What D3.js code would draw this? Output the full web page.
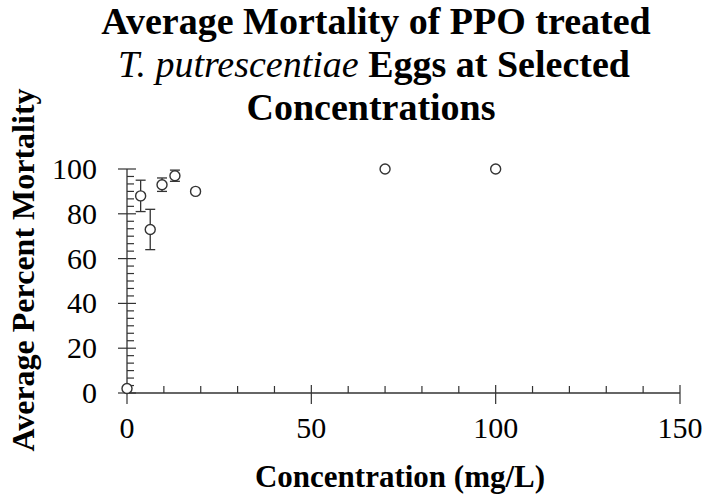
<!DOCTYPE html>
<html>
<head>
<meta charset="utf-8">
<script src="https://cdn.jsdelivr.net/npm/d3@7"></script>
<style>
  body { margin: 0; background: #fff; }
  svg text { font-family: "Liberation Serif", "Times New Roman", serif; fill: #000; }
</style>
</head>
<body>
<div id="chart"></div>
<script>
// data
const concentration = [0, 3.7, 6.3, 9.5, 13, 18.6, 70, 100];
const mortality = [2, 88, 73, 93, 97, 90, 100, 100];
const errorBars = [0, 7, 9, 3, 2.5, 0, 0, 0];
const xTicks = [0, 50, 100, 150];
const yTicks = [0, 20, 40, 60, 80, 100];

let width = 706;
let height = 496;

let svg = d3.select('#chart')
  .append('svg')
  .attr('width', width)
  .attr('height', height)

let x = d3.scaleLinear().domain([0, 150]).range([127, 680]);
let y = d3.scaleLinear().domain([0, 100]).range([393, 169]);

/** title */
let title = svg.append('text')
  .attr('text-anchor', 'middle')
  .style('font-weight', 'bold')
  .style('font-size', '38px')
title.append('tspan').attr('x', 376).attr('y', 34).text('Average Mortality of PPO treated')
let t2 = title.append('tspan').attr('x', 374).attr('y', 77)
t2.append('tspan').style('font-style', 'italic').style('font-weight', 'normal').text('T. putrescentiae')
t2.append('tspan').text(' Eggs at Selected')
title.append('tspan').attr('x', 371).attr('y', 120).text('Concentrations')

const axisColor = '#333';

/** axes lines */
svg.append('line')
  .attr('x1', x(0)).attr('x2', x(150))
  .attr('y1', y(0)).attr('y2', y(0))
  .attr('stroke', axisColor).attr('stroke-width', 1.3)
svg.append('line')
  .attr('x1', x(0)).attr('x2', x(0))
  .attr('y1', y(0)).attr('y2', y(100))
  .attr('stroke', axisColor).attr('stroke-width', 1.3)

// minor ticks x: every 10, inside (upwards)
svg.selectAll('.xminor')
  .data(d3.range(10, 150, 10).filter(d => d % 50 !== 0))
  .enter().append('line')
  .attr('x1', d => x(d)).attr('x2', d => x(d))
  .attr('y1', y(0)).attr('y2', y(0) - 7)
  .attr('stroke', axisColor).attr('stroke-width', 1.2)

// major ticks x: crossing
svg.selectAll('.xmajor')
  .data(xTicks)
  .enter().append('line')
  .attr('x1', d => x(d)).attr('x2', d => x(d))
  .attr('y1', y(0) - 8).attr('y2', y(0) + 11)
  .attr('stroke', axisColor).attr('stroke-width', 1.2)

svg.selectAll('.xlabel')
  .data(xTicks)
  .enter().append('text')
  .attr('x', d => x(d))
  .attr('y', 438)
  .attr('text-anchor', 'middle')
  .style('font-size', '30px')
  .text(d => d)

// minor ticks y: 5 between majors, inside (right)
svg.selectAll('.yminor')
  .data(d3.range(0, 30).map(i => i * 20 / 6).filter((d, i) => i % 6 !== 0))
  .enter().append('line')
  .attr('x1', x(0)).attr('x2', x(0) + 7)
  .attr('y1', d => y(d)).attr('y2', d => y(d))
  .attr('stroke', axisColor).attr('stroke-width', 1.2)

svg.selectAll('.ymajor')
  .data(yTicks)
  .enter().append('line')
  .attr('x1', x(0) - 9).attr('x2', x(0) + 9)
  .attr('y1', d => y(d)).attr('y2', d => y(d))
  .attr('stroke', axisColor).attr('stroke-width', 1.2)

svg.selectAll('.ylabel')
  .data(yTicks)
  .enter().append('text')
  .attr('x', 97)
  .attr('y', d => y(d) + 10)
  .attr('text-anchor', 'end')
  .style('font-size', '30px')
  .text(d => d)

/** axis titles */
svg.append('text')
  .attr('x', 400).attr('y', 487)
  .attr('text-anchor', 'middle')
  .style('font-weight', 'bold')
  .style('font-size', '31px')
  .text('Concentration (mg/L)')

svg.append('text')
  .attr('transform', 'translate(34,270) rotate(-90)')
  .attr('text-anchor', 'middle')
  .style('font-weight', 'bold')
  .style('font-size', '32px')
  .text('Average Percent Mortality')

/** error bars */
const pts = concentration.map((c, i) => ({ c: c, m: mortality[i], e: errorBars[i] }))
const withErr = pts.filter(d => d.e > 0)
svg.selectAll('.err')
  .data(withErr)
  .enter().append('line')
  .attr('x1', d => x(d.c)).attr('x2', d => x(d.c))
  .attr('y1', d => y(d.m - d.e)).attr('y2', d => y(d.m + d.e))
  .attr('stroke', axisColor).attr('stroke-width', 1.3)
svg.selectAll('.capTop')
  .data(withErr)
  .enter().append('line')
  .attr('x1', d => x(d.c) - 5).attr('x2', d => x(d.c) + 5)
  .attr('y1', d => y(d.m + d.e)).attr('y2', d => y(d.m + d.e))
  .attr('stroke', axisColor).attr('stroke-width', 1.3)
svg.selectAll('.capBot')
  .data(withErr)
  .enter().append('line')
  .attr('x1', d => x(d.c) - 5).attr('x2', d => x(d.c) + 5)
  .attr('y1', d => y(d.m - d.e)).attr('y2', d => y(d.m - d.e))
  .attr('stroke', axisColor).attr('stroke-width', 1.3)

/** points */
svg.selectAll('.pt')
  .data(pts)
  .enter().append('circle')
  .attr('cx', d => x(d.c))
  .attr('cy', d => y(d.m))
  .attr('r', 5)
  .attr('fill', '#fff')
  .attr('stroke', '#333')
  .attr('stroke-width', 1.4)
</script>
</body>
</html>
